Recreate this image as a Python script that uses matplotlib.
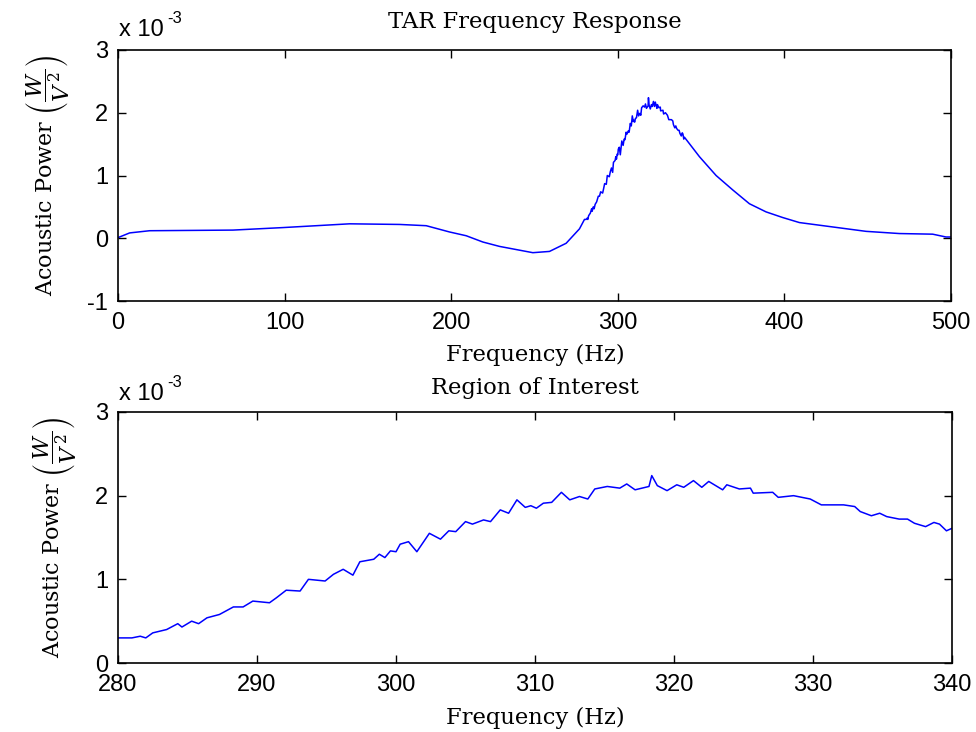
import numpy as np
import matplotlib
matplotlib.use("Agg")
import matplotlib.pyplot as plt

# ---- data (power in units of 1e-3 W/V^2) ----
freq_full = [0, 7, 19, 69, 99, 139, 169, 185, 199, 209, 219, 229, 239, 249, 259,
             269, 277, 283, 289, 295, 301, 309, 317, 321, 329, 339, 349, 359,
             369, 379, 389, 399, 409, 429, 449, 469, 489, 497, 500]
power_full = [0.01, 0.085, 0.12, 0.13, 0.17, 0.23, 0.22, 0.20, 0.10, 0.04, -0.06,
              -0.13, -0.18, -0.23, -0.21, -0.08, 0.15, 0.39, 0.71, 1.14, 1.51,
              1.93, 2.17, 2.15, 1.99, 1.64, 1.30, 1.00, 0.77, 0.55, 0.42, 0.33,
              0.25, 0.18, 0.11, 0.075, 0.065, 0.02, 0.02]

freq_roi = [280.0, 281.0, 281.6, 282.0, 282.5, 283.5, 284.3, 284.6, 285.3, 285.8,
            286.4, 287.3, 288.3, 289.0, 289.7, 290.9, 291.4, 292.1, 293.1, 293.7,
            294.9, 295.5, 296.2, 296.9, 297.4, 298.4, 298.8, 299.2, 299.6, 300.0,
            300.3, 300.9, 301.5, 302.4, 303.2, 303.8, 304.3, 305.0, 305.5, 306.3,
            306.8, 307.5, 308.1, 308.7, 309.3, 309.7, 310.1, 310.6, 311.2, 311.9,
            312.5, 313.2, 313.8, 314.3, 315.2, 316.1, 316.6, 317.2, 318.2, 318.4,
            318.8, 319.5, 320.2, 320.7, 321.4, 322.0, 322.5, 323.5, 323.8, 324.7,
            325.5, 325.7, 327.1, 327.5, 328.6, 329.8, 330.6, 332.2, 333.0, 333.4,
            334.2, 334.8, 335.3, 336.2, 336.8, 337.3, 338.1, 338.7, 339.1, 339.6,
            340.0]
power_roi = [0.30, 0.30, 0.32, 0.30, 0.36, 0.40, 0.47, 0.43, 0.50, 0.47,
             0.54, 0.58, 0.67, 0.67, 0.74, 0.72, 0.78, 0.87, 0.86, 1.00,
             0.98, 1.06, 1.12, 1.05, 1.21, 1.24, 1.30, 1.26, 1.34, 1.33,
             1.42, 1.45, 1.33, 1.55, 1.48, 1.58, 1.57, 1.69, 1.66, 1.71,
             1.69, 1.83, 1.79, 1.95, 1.86, 1.88, 1.85, 1.91, 1.92, 2.04,
             1.95, 1.99, 1.96, 2.08, 2.11, 2.09, 2.14, 2.07, 2.11, 2.24,
             2.12, 2.06, 2.13, 2.10, 2.18, 2.10, 2.17, 2.07, 2.13, 2.08,
             2.09, 2.03, 2.04, 1.98, 2.00, 1.96, 1.89, 1.89, 1.87, 1.81,
             1.76, 1.79, 1.75, 1.72, 1.72, 1.67, 1.63, 1.68, 1.66, 1.58,
             1.61]

xticks_top = [0, 100, 200, 300, 400, 500]
yticks_top = [-1, 0, 1, 2, 3]
xticks_bot = [280, 290, 300, 310, 320, 330, 340]
yticks_bot = [0, 1, 2, 3]

# merge: full curve outside the region of interest + detailed region data
ff = np.array(freq_full); pf = np.array(power_full)
fr = np.array(freq_roi); pr = np.array(power_roi)
f_all = np.concatenate([ff[ff < 280], fr, ff[ff > 340]])
p_all = np.concatenate([pf[ff < 280], pr, pf[ff > 340]])

serif = "DejaVu Serif"
sans = "Liberation Sans"
plt.rcParams["font.family"] = sans
plt.rcParams["mathtext.fontset"] = "dejavuserif"

fig = plt.figure(figsize=(9.76, 7.32), dpi=100)
W, H = 976, 732
ax1 = fig.add_axes([118 / W, 1 - 301 / H, 833 / W, 251 / H])
ax2 = fig.add_axes([118 / W, 1 - 663 / H, 834 / W, 251 / H])

ylab = r"Acoustic Power $\left(\dfrac{W}{V^{\,2}}\right)$"

def style(ax, xt, yt, xlim, ylim, title, title_y, xlab_y, off_y):
    ax.set_xlim(*xlim)
    ax.set_ylim(*ylim)
    ax.set_xticks(xt)
    ax.set_yticks(yt)
    ax.set_xticklabels([str(v) for v in xt])
    ax.set_yticklabels([str(v) for v in yt])
    ax.tick_params(direction="in", length=6, width=1, top=True, right=True,
                   labelsize=17, colors="black")
    ax.tick_params(axis="x", pad=8)
    ax.tick_params(axis="y", pad=7)
    for s in ax.spines.values():
        s.set_linewidth(1.2)
    fig.text(535 / W, 1 - title_y / H, title, family=serif, fontsize=16.3,
             ha="center", va="center")
    fig.text(535 / W, 1 - xlab_y / H, "Frequency (Hz)", family=serif,
             fontsize=16.3, ha="center", va="center")
    ax.set_ylabel(ylab, family=serif, fontsize=16, labelpad=12)
    fig.text(119 / W, 1 - off_y / H, "x 10", family=sans, fontsize=17,
             ha="left", va="baseline")
    fig.text(167 / W, 1 - (off_y - 13) / H, "-3", family=sans, fontsize=12,
             ha="left", va="baseline")

ax1.plot(f_all, p_all, color="#0000ff", lw=1.1)
style(ax1, xticks_top, yticks_top, (0, 500), (-1, 3), "TAR Frequency Response",
      22, 355, 36)

ax2.plot(f_all, p_all, color="#0000ff", lw=1.1)
style(ax2, xticks_bot, yticks_bot, (280, 340), (0, 3), "Region of Interest",
      388, 718, 400)

fig.savefig("out.png", dpi=100, facecolor="white")
